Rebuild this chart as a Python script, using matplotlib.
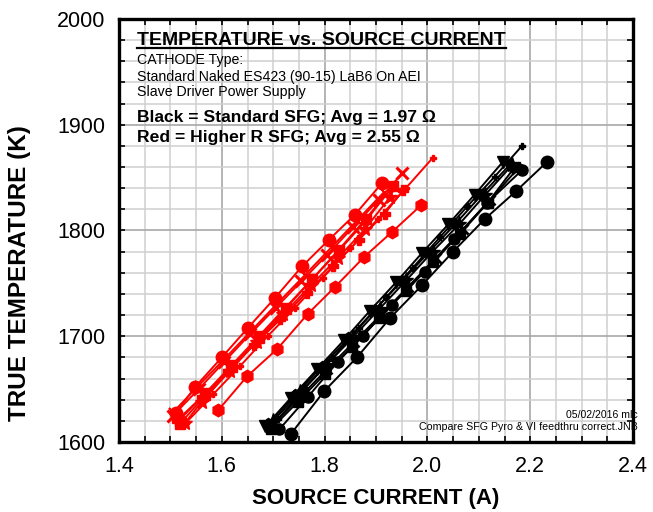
import numpy as np
import matplotlib.pyplot as plt
from matplotlib.ticker import MultipleLocator, FormatStrFormatter
from matplotlib.lines import Line2D

plt.rcParams['font.family'] = ['Liberation Sans', 'DejaVu Sans']

# ---- red group (higher R SFG) ----
r_circ_x = [1.510, 1.548, 1.600, 1.651, 1.703, 1.756, 1.808, 1.859, 1.912]
r_circ_y = [1627, 1652, 1680, 1708, 1736, 1766, 1791, 1815, 1845]
r_sq_x = [1.518, 1.568, 1.620, 1.672, 1.724, 1.776, 1.828, 1.880, 1.933]
r_sq_y = [1617, 1644, 1671, 1698, 1726, 1754, 1782, 1811, 1842]
r_x_x = [1.505, 1.555, 1.605, 1.655, 1.705, 1.755, 1.805, 1.855, 1.905, 1.951]
r_x_y = [1625, 1650, 1676, 1702, 1727, 1752, 1777, 1803, 1829, 1854]
r_plus_x = [1.512, 1.562, 1.612, 1.663, 1.714, 1.765, 1.816, 1.866, 1.917, 1.953]
r_plus_y = [1620, 1643, 1667, 1692, 1716, 1741, 1766, 1791, 1816, 1838]
r_tri_x = [1.514, 1.566, 1.618, 1.670, 1.722, 1.774, 1.826, 1.878, 1.930]
r_tri_y = [1619, 1645, 1672, 1699, 1726, 1753, 1780, 1808, 1840]
r_star_x = [1.528, 1.561, 1.615, 1.668, 1.720, 1.773, 1.826, 1.878, 1.928]
r_star_y = [1618, 1638, 1667, 1695, 1721, 1748, 1774, 1801, 1832]
r_tick_x = [1.505, 1.556, 1.608, 1.659, 1.710, 1.762, 1.813, 1.864, 1.915]
r_tick_y = [1628, 1654, 1680, 1706, 1732, 1758, 1784, 1810, 1836]
r_hex_x = [1.593, 1.649, 1.708, 1.767, 1.821, 1.877, 1.932, 1.988]
r_hex_y = [1630, 1662, 1688, 1721, 1747, 1775, 1799, 1824]
r_thin_x = [1.530, 1.583, 1.636, 1.689, 1.743, 1.796, 1.850, 1.904, 1.958, 2.011]
r_thin_y = [1618, 1645, 1672, 1700, 1727, 1755, 1783, 1811, 1840, 1869]

# ---- black group (standard SFG) ----
b_circ1_x = [1.735, 1.799, 1.863, 1.927, 1.989, 2.050, 2.112, 2.172, 2.233]
b_circ1_y = [1608, 1648, 1680, 1717, 1748, 1780, 1811, 1837, 1865]
b_circ2_x = [1.712, 1.768, 1.826, 1.874, 1.931, 1.995, 2.052, 2.116, 2.184]
b_circ2_y = [1612, 1643, 1676, 1700, 1730, 1761, 1792, 1826, 1857]
b_tri_x = [1.685, 1.735, 1.786, 1.837, 1.888, 1.939, 1.990, 2.041, 2.092, 2.147]
b_tri_y = [1615, 1642, 1669, 1696, 1724, 1751, 1779, 1806, 1834, 1865]
b_sq_x = [1.695, 1.748, 1.800, 1.853, 1.906, 1.958, 2.011, 2.064, 2.117, 2.170]
b_sq_y = [1612, 1638, 1664, 1690, 1717, 1743, 1770, 1797, 1826, 1860]
b_star_x = [1.700, 1.752, 1.804, 1.855, 1.907, 1.959, 2.010, 2.062, 2.113, 2.165]
b_star_y = [1620, 1647, 1673, 1699, 1726, 1753, 1780, 1806, 1834, 1862]
b_plus_x = [1.710, 1.762, 1.815, 1.867, 1.920, 1.972, 2.025, 2.078, 2.131, 2.184]
b_plus_y = [1622, 1651, 1679, 1708, 1737, 1765, 1794, 1823, 1851, 1880]
b_x_x = [1.700, 1.753, 1.805, 1.858, 1.911, 1.963, 2.016, 2.069, 2.122, 2.175]
b_x_y = [1617, 1643, 1669, 1695, 1721, 1747, 1774, 1801, 1829, 1858]
b_pent_x = [1.690, 1.742, 1.794, 1.846, 1.898, 1.950, 2.002, 2.054, 2.106, 2.160]
b_pent_y = [1617, 1644, 1671, 1698, 1725, 1752, 1779, 1806, 1834, 1862]

red = '#ff0000'
black = '#000000'

fig = plt.figure(figsize=(6.53, 5.12), dpi=100)
ax = fig.add_axes([119/653, 70/512, 514/653, 423/512])

def series(x, y, c, m, ms, mew=1.0, lw=1.4):
    ax.plot(x, y, color=c, lw=lw, marker=m, ms=ms, mec=c, mfc=c, mew=mew, zorder=3)

series(r_hex_x, r_hex_y, red, 'h', 9)
series(r_thin_x, r_thin_y, red, 'P', 5)
series(r_plus_x, r_plus_y, red, 'P', 7)
series(r_star_x, r_star_y, red, '*', 10)
series(r_tri_x, r_tri_y, red, 'v', 8)
series(r_sq_x, r_sq_y, red, 's', 7)
series(r_tick_x, r_tick_y, red, (2, 2, 45), 9, mew=1.3)
series(r_x_x, r_x_y, red, 'x', 8, mew=2.2)
series(r_circ_x, r_circ_y, red, 'o', 9)

series(b_circ1_x, b_circ1_y, black, 'o', 9)
series(b_circ2_x, b_circ2_y, black, 'o', 8)
series(b_plus_x, b_plus_y, black, 'P', 5)
series(b_x_x, b_x_y, black, 'x', 7, mew=2.0)
series(b_pent_x, b_pent_y, black, 'p', 8)
series(b_star_x, b_star_y, black, '*', 11)
series(b_sq_x, b_sq_y, black, 's', 7)
series(b_tri_x, b_tri_y, black, 'v', 8)

ax.set_xlim(1.4, 2.4)
ax.set_ylim(1600, 2000)
ax.xaxis.set_major_locator(MultipleLocator(0.2))
ax.xaxis.set_minor_locator(MultipleLocator(0.05))
ax.yaxis.set_major_locator(MultipleLocator(100))
ax.yaxis.set_minor_locator(MultipleLocator(20))
ax.xaxis.set_major_formatter(FormatStrFormatter('%.1f'))
ax.grid(which='major', color='#a8a8a8', lw=1.2, zorder=0)
ax.grid(which='minor', color='#cfcfcf', lw=1.1, zorder=0)
ax.set_axisbelow(True)
ax.tick_params(which='both', direction='in', top=True, right=True,
               length=4, width=1.2, color='black')
ax.tick_params(which='major', labelsize=15.5, pad=10)
for s in ax.spines.values():
    s.set_linewidth(2.4)

ax.set_xlabel('SOURCE CURRENT (A)', fontsize=16, fontweight='bold')
ax.xaxis.set_label_coords(0.5, -0.108)
ax.set_ylabel('TRUE TEMPERATURE (K)', fontsize=17.5, fontweight='bold')
ax.yaxis.set_label_coords(-0.172, 0.40)

title = ax.text(0.035, 0.950, 'TEMPERATURE vs. SOURCE CURRENT', transform=ax.transAxes,
                fontsize=14, fontweight='bold', va='center', ha='left')
ax.text(0.035, 0.903, 'CATHODE Type:', transform=ax.transAxes, fontsize=10.2, va='center')
ax.text(0.035, 0.863, 'Standard Naked ES423 (90-15) LaB6 On AEI', transform=ax.transAxes,
        fontsize=10.2, va='center')
ax.text(0.035, 0.827, 'Slave Driver Power Supply', transform=ax.transAxes, fontsize=10.2, va='center')
ax.text(0.035, 0.768, 'Black = Standard SFG; Avg = 1.97 \u03a9', transform=ax.transAxes,
        fontsize=12.6, fontweight='bold', va='center')
ax.text(0.035, 0.721, 'Red = Higher R SFG; Avg = 2.55 \u03a9', transform=ax.transAxes,
        fontsize=12.6, fontweight='bold', va='center')
ax.text(1.0097, 0.064, '05/02/2016 mlc', transform=ax.transAxes, fontsize=7.6, ha='right', va='center')
ax.text(1.0097, 0.035, 'Compare SFG Pyro & VI feedthru correct.JNB', transform=ax.transAxes,
        fontsize=7.7, ha='right', va='center')

# underline the title
fig.canvas.draw()
bb = title.get_window_extent().transformed(ax.transAxes.inverted())
ax.add_line(Line2D([bb.x0, bb.x1], [bb.y0 + 0.002, bb.y0 + 0.002], transform=ax.transAxes,
                   color='black', lw=1.6, zorder=4))

fig.savefig('out.png', dpi=100)
